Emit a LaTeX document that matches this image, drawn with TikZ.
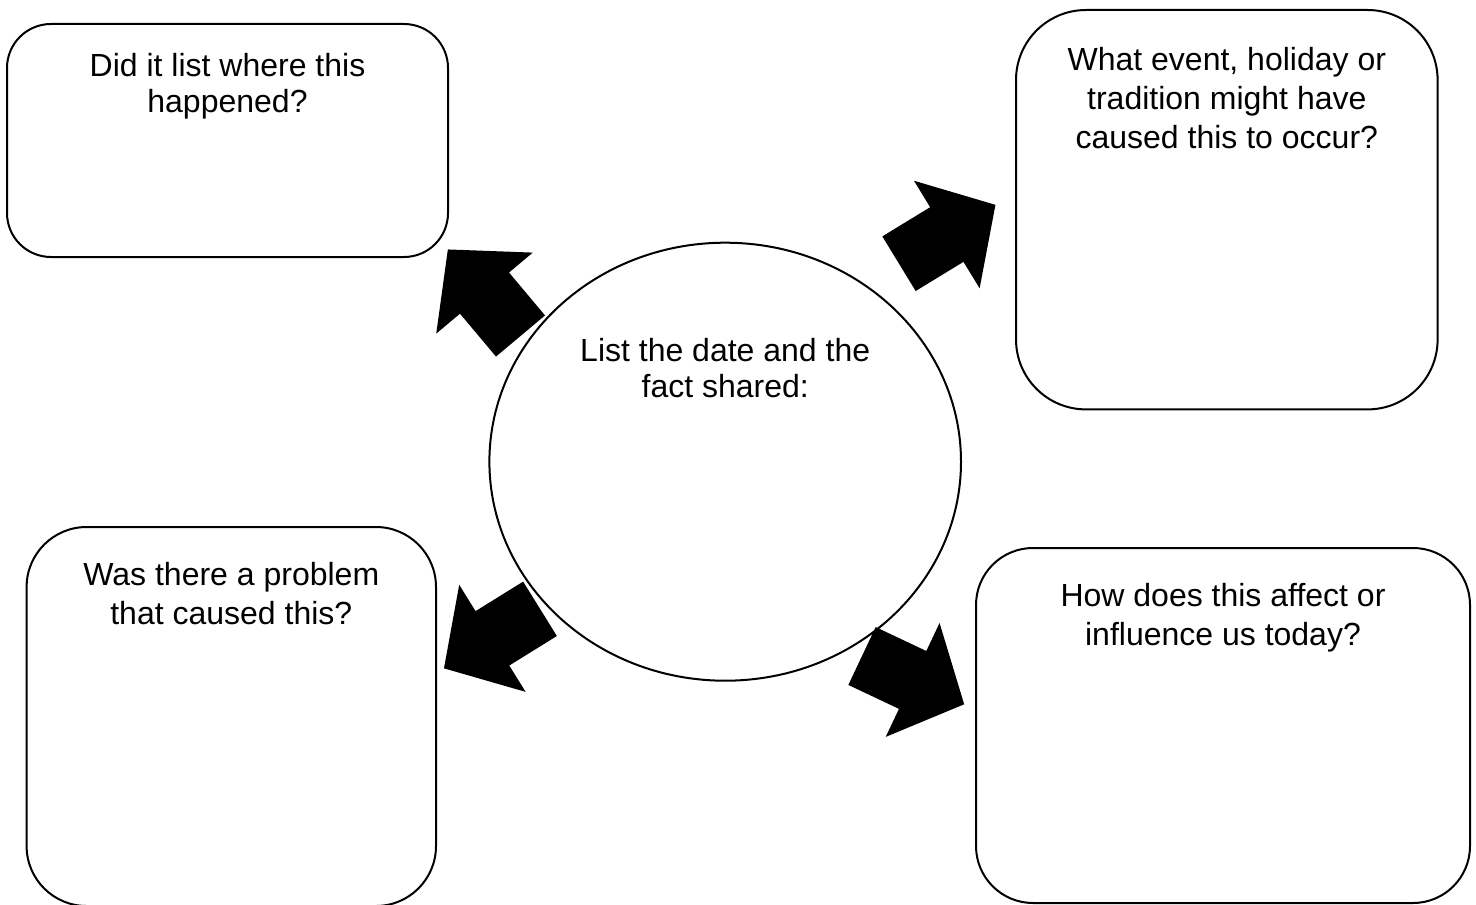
\documentclass[tikz,border=0pt]{standalone}
\usepackage{fontspec}
\setmainfont{Liberation Sans}
\usetikzlibrary{positioning,shapes.geometric}

\tikzset{
  qbox/.style={draw, line width=1pt, fill=white},
  qtext/.style={align=center, inner sep=0pt, font=\fontsize{16pt}{18pt}\selectfont},
  qtextwide/.style={qtext, font=\fontsize{16pt}{19.5pt}\selectfont},
}

\begin{document}
\begin{tikzpicture}[x=0.5pt,y=-0.5pt]
\useasboundingbox (0,0) rectangle (1476,904);

% the four question boxes
\node[qbox, rounded corners=22pt, minimum width=220.5pt, minimum height=116.5pt] (where) at (227.5,140.5) {};
\node[qbox, rounded corners=35pt, minimum width=210.8pt, minimum height=199.7pt] (cause) at (1226.8,209.7) {};
\node[qbox, rounded corners=30pt, minimum width=204.7pt, minimum height=189.5pt] (problem) at (231.3,716.5) {};
\node[qbox, rounded corners=28.5pt, minimum width=247pt, minimum height=177.5pt] (today) at (1223,725.5) {};

% the fact in the middle
\node[qbox, ellipse, minimum width=235.8pt, minimum height=219pt] (fact) at (725.2,461.7) {};

\node[qtext, below=15pt of where.north] (wheretext) {Did it list where this\\happened?};
\node[qtextwide, below=19pt of cause.north] (causetext) {What event, holiday or\\tradition might have\\caused this to occur?};
\node[qtextwide, below=18pt of problem.north] (problemtext) {Was there a problem\\that caused this?};
\node[qtextwide, below=18pt of today.north] (todaytext) {How does this affect or\\influence us today?};
\node[qtext, below=48pt of fact.north] (facttext) {List the date and the\\fact shared:};

% block arrows: tail x/y, direction
\foreach \x/\y/\a in {520.5/336/130, 899/263.7/31.4, 540/608.8/211.8, 862/656/-25.3}
  \fill[shift={(\x,\y)}, rotate=\a] (0,-32) -- (56,-32) -- (56,-63) -- (113,0)
        -- (56,63) -- (56,32) -- (0,32) -- cycle;
\end{tikzpicture}
\end{document}
